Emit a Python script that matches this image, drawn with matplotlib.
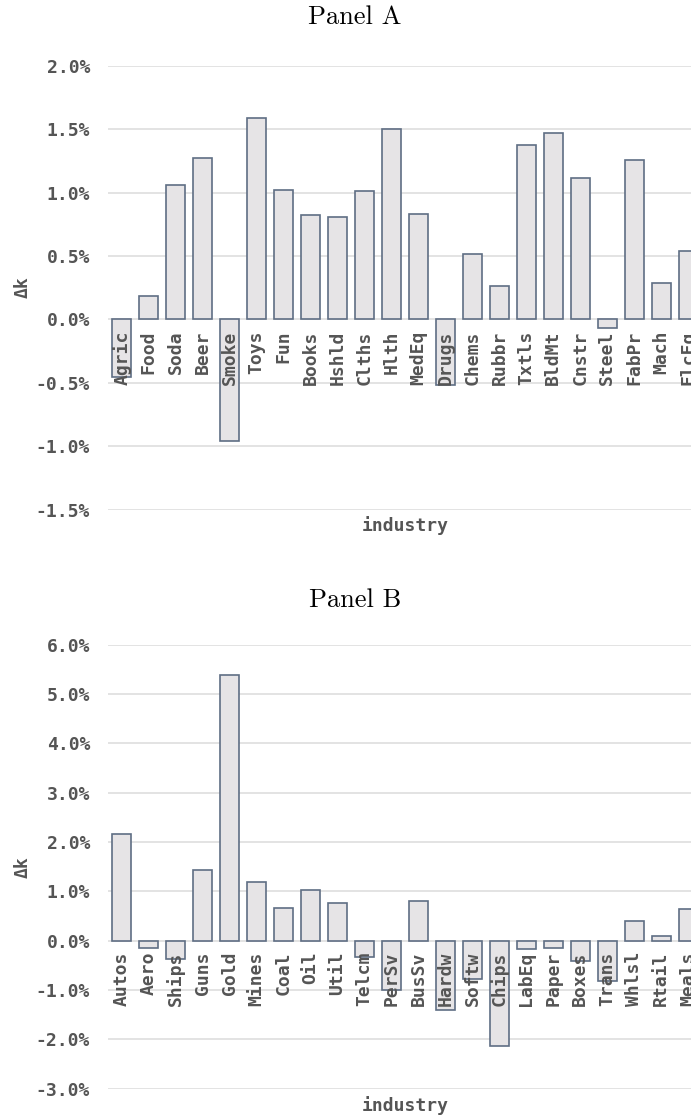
import matplotlib
matplotlib.use("Agg")
import matplotlib.pyplot as plt
from matplotlib.ticker import FuncFormatter
import matplotlib.transforms as mtrans

industries_a = ["Agric", "Food", "Soda", "Beer", "Smoke", "Toys", "Fun", "Books", "Hshld",
                "Clths", "Hlth", "MedEq", "Drugs", "Chems", "Rubbr", "Txtls", "BldMt",
                "Cnstr", "Steel", "FabPr", "Mach", "ElcEq"]
dk_a = [-0.455, 0.184, 1.062, 1.275, -0.958, 1.585, 1.02, 0.825, 0.807,
        1.014, 1.503, 0.833, -0.52, 0.513, 0.26, 1.377, 1.467,
        1.114, -0.067, 1.256, 0.284, 0.539]

industries_b = ["Autos", "Aero", "Ships", "Guns", "Gold", "Mines", "Coal", "Oil", "Util",
                "Telcm", "PerSv", "BusSv", "Hardw", "Softw", "Chips", "LabEq", "Paper",
                "Boxes", "Trans", "Whlsl", "Rtail", "Meals"]
dk_b = [2.17, -0.14, -0.38, 1.44, 5.386, 1.19, 0.67, 1.02, 0.77,
        -0.34, -1.006, 0.81, -1.40, -0.77, -2.14, -0.17, -0.155,
        -0.42, -0.82, 0.40, 0.09, 0.65]

yticks_a = [-1.5, -1.0, -0.5, 0.0, 0.5, 1.0, 1.5, 2.0]
yticks_b = [-3.0, -2.0, -1.0, 0.0, 1.0, 2.0, 3.0, 4.0, 5.0, 6.0]

W, H = 691, 1116
fig = plt.figure(figsize=(W / 100, H / 100), dpi=100)

MONO = "DejaVu Sans Mono"
TXT = "#555555"
FACE = "#e6e4e6"
EDGE = "#5f6e84"
GRID = "#dedede"
FS = 13

def px(x0, y0, x1, y1):
    return [x0 / W, 1 - y1 / H, (x1 - x0) / W, (y1 - y0) / H]

def panel(rect, names, vals, ticks, title, title_y):
    ax = fig.add_axes(rect)
    x = list(range(len(names)))
    ax.bar(x, vals, width=0.69, color=FACE, edgecolor=EDGE, linewidth=1.2, zorder=3)
    ax.set_xlim(-0.5, len(names) - 0.5)
    ax.set_ylim(ticks[0], ticks[-1])
    ax.set_yticks(ticks)
    ax.yaxis.set_major_formatter(FuncFormatter(lambda v, p: f"{v:.1f}%"))
    ax.grid(axis="y", color=GRID, linewidth=1.2, zorder=0)
    ax.set_axisbelow(True)
    for s in ax.spines.values():
        s.set_visible(False)
    ax.tick_params(axis="y", length=0, pad=13, labelsize=FS, labelcolor=TXT)
    for lbl in ax.get_yticklabels():
        lbl.set_fontfamily(MONO)
        lbl.set_fontweight("bold")
    ax.set_xticks([])
    off = mtrans.ScaledTranslation(0, -11 / 100, fig.dpi_scale_trans)
    for i, n in enumerate(names):
        ax.text(i, 0, n, transform=ax.transData + off, rotation=90, ha="center", va="top",
                fontsize=FS, fontfamily=MONO, fontweight="bold", color=TXT, zorder=4)
    ax.set_xlabel("industry", fontsize=FS, fontfamily=MONO, fontweight="bold", color=TXT,
                  labelpad=5)
    ax.set_ylabel("Δk", fontsize=FS, fontfamily=MONO, fontweight="bold", color=TXT,
                  labelpad=3)
    fig.text(355 / W, 1 - title_y / H, title, ha="center", va="center",
             fontsize=19, fontfamily="cmr10")
    return ax

panel(px(108.3, 65.7, 701.7, 509.5), industries_a, dk_a, yticks_a, "Panel A", 17)
panel(px(108.3, 644.7, 701.7, 1088.7), industries_b, dk_b, yticks_b, "Panel B", 600)

fig.savefig("out.png", dpi=100)
